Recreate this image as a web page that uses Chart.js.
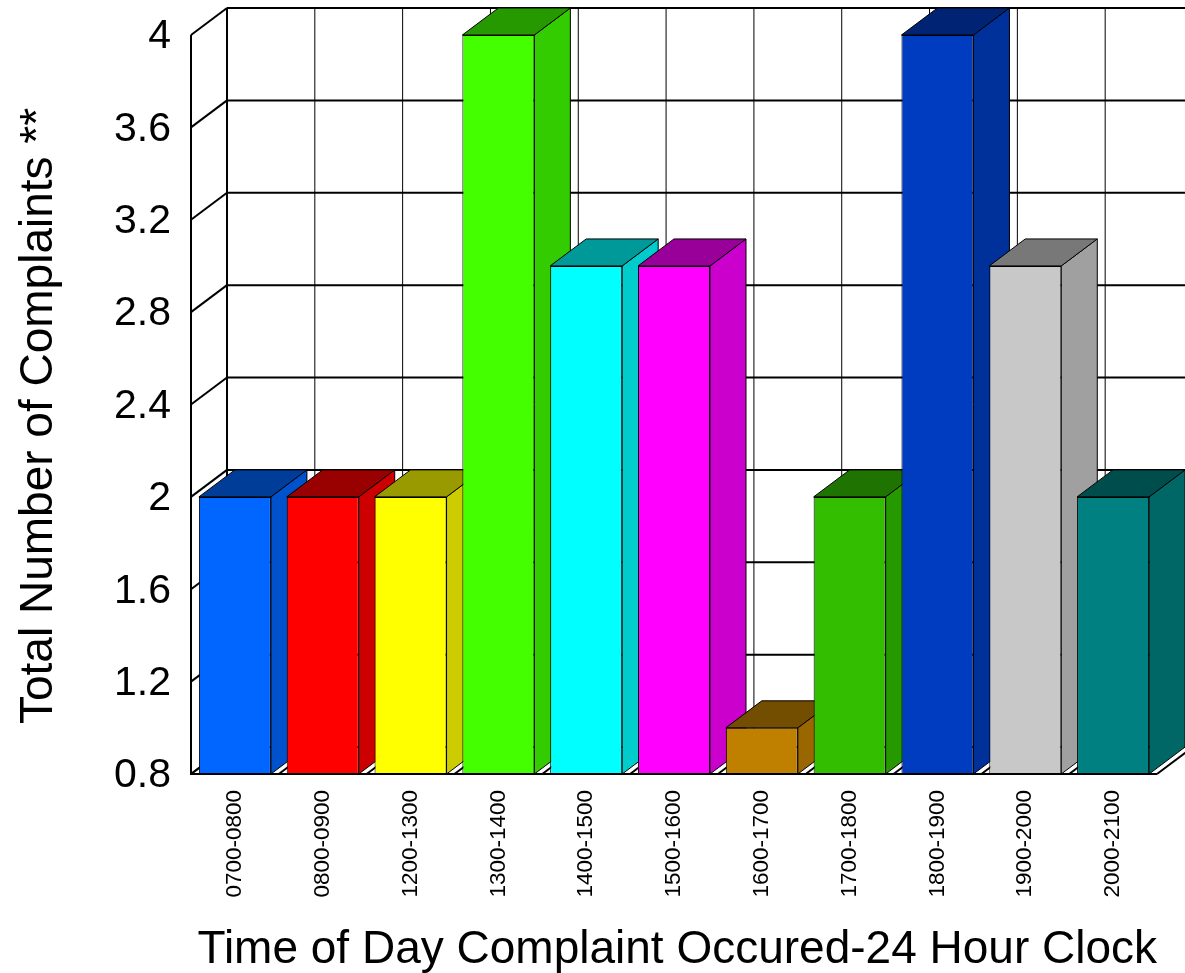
<!DOCTYPE html>
<html>
<head>
<meta charset="utf-8">
<title>Complaints by time of day</title>
<script src="https://cdn.jsdelivr.net/npm/chart.js@4"></script>
<style>
  html, body { margin: 0; padding: 0; background: #fff; }
  canvas { display: block; }
</style>
</head>
<body>
<canvas id="complaintsChart" width="1185" height="973"></canvas>
<script>
const timeSlots = ['0700-0800', '0800-0900', '1200-1300', '1300-1400', '1400-1500', '1500-1600',
                   '1600-1700', '1700-1800', '1800-1900', '1900-2000', '2000-2100'];
const complaints = [2, 2, 2, 4, 3, 3, 1, 2, 4, 3, 2];

const frontColors = ['#0066ff', '#ff0000', '#ffff00', '#44ff00', '#00ffff', '#ff00ff',
                     '#bf8000', '#33bf00', '#003cbf', '#c8c8c8', '#008080'];
const sideColors  = ['#0052cc', '#cc0000', '#cccc00', '#33cc00', '#00cccc', '#cc00cc',
                     '#996600', '#269900', '#003099', '#a0a0a0', '#006666'];
const topColors   = ['#003d99', '#990000', '#999900', '#269900', '#009999', '#990099',
                     '#734d00', '#1f7300', '#002473', '#787878', '#004d4d'];

const xTitle = 'Time of Day Complaint Occured-24 Hour Clock';
const yTitle = 'Total Number of Complaints **';

// how far the back wall sits from the front plane
const depthX = 36;
const depthY = 27;

function line(ctx, x1, y1, x2, y2, width) {
  ctx.lineWidth = width;
  ctx.beginPath();
  ctx.moveTo(x1, y1);
  ctx.lineTo(x2, y2);
  ctx.stroke();
}

function face(ctx, pts, fill) {
  ctx.fillStyle = fill;
  ctx.beginPath();
  pts.forEach((p, i) => i ? ctx.lineTo(p[0], p[1]) : ctx.moveTo(p[0], p[1]));
  ctx.closePath();
  ctx.fill();
  ctx.lineWidth = 1;
  ctx.stroke();
}

const box3d = {
  id: 'box3d',

  // back wall, left wall, floor, then the side and top of each bar
  beforeDatasetsDraw(chart) {
    const { ctx, chartArea: area, scales: { y } } = chart;
    const band = area.width / timeSlots.length;
    ctx.save();
    ctx.strokeStyle = '#000';

    y.ticks.forEach(t => {
      const py = y.getPixelForValue(t.value);
      line(ctx, area.left + depthX, py - depthY, area.right + depthX, py - depthY, 2);
      line(ctx, area.left, py, area.left + depthX, py - depthY, 2);
    });

    for (let i = 0; i <= timeSlots.length; i++) {
      const px = area.left + band * i;
      line(ctx, px + depthX, area.top - depthY, px + depthX, area.bottom - depthY, i ? 1 : 2);
      line(ctx, px, area.bottom, px + depthX, area.bottom - depthY, 2);
    }
    line(ctx, area.left, area.top, area.left, area.bottom, 2);

    // the bars start below the axis minimum, so their base is the floor
    const base = area.bottom;
    chart.getDatasetMeta(0).data.forEach((bar, i) => {
      const l = bar.x - bar.width / 2;
      const r = bar.x + bar.width / 2;
      face(ctx, [[r, bar.y], [r + depthX, bar.y - depthY], [r + depthX, base - depthY], [r, base]], sideColors[i]);
      face(ctx, [[l, bar.y], [l + depthX, bar.y - depthY], [r + depthX, bar.y - depthY], [r, bar.y]], topColors[i]);
    });
    ctx.restore();
  },

  afterDatasetsDraw(chart) {
    const { ctx, chartArea: area } = chart;
    ctx.save();
    ctx.strokeStyle = '#000';
    line(ctx, area.left - 1, area.bottom, area.right, area.bottom, 2);

    ctx.fillStyle = '#000';
    ctx.font = '46px "Liberation Sans"';
    ctx.textBaseline = 'alphabetic';
    ctx.textAlign = 'right';
    ctx.fillText(xTitle, area.right, 963);
    ctx.translate(52, 724);
    ctx.rotate(-Math.PI / 2);
    ctx.textAlign = 'left';
    ctx.fillText(yTitle, 0, 0);
    ctx.restore();
  }
};

new Chart(document.getElementById('complaintsChart'), {
  type: 'bar',
  data: {
    labels: timeSlots,
    datasets: [{
      data: complaints,
      backgroundColor: frontColors,
      borderColor: '#000',
      borderWidth: 1,
      borderSkipped: false,
      barPercentage: 0.82,
      categoryPercentage: 1
    }]
  },
  options: {
    responsive: false,
    animation: false,
    layout: { padding: { top: 35, right: 28, left: 0, bottom: 0 } },
    plugins: {
      legend: { display: false },
      tooltip: { enabled: false }
    },
    scales: {
      x: {
        afterFit: s => { s.height = 199; s.paddingLeft = 0; s.paddingRight = 0; },
        grid: { display: false, drawTicks: false },
        border: { display: false },
        ticks: {
          color: '#000',
          font: { family: 'Liberation Sans', size: 22.5 },
          minRotation: 90,
          maxRotation: 90,
          padding: 16,
          autoSkip: false
        }
      },
      y: {
        min: 0.8,
        max: 4,
        afterFit: s => { s.width = 191; s.paddingTop = 0; s.paddingBottom = 0; },
        grid: { display: false, drawTicks: false },
        border: { display: false },
        ticks: {
          stepSize: 0.4,
          color: '#000',
          font: { family: 'Liberation Sans', size: 41 },
          padding: 20,
          labelOffset: 2,
          callback: v => String(Number(v.toFixed(1)))
        }
      }
    }
  },
  plugins: [box3d]
});
</script>
</body>
</html>
